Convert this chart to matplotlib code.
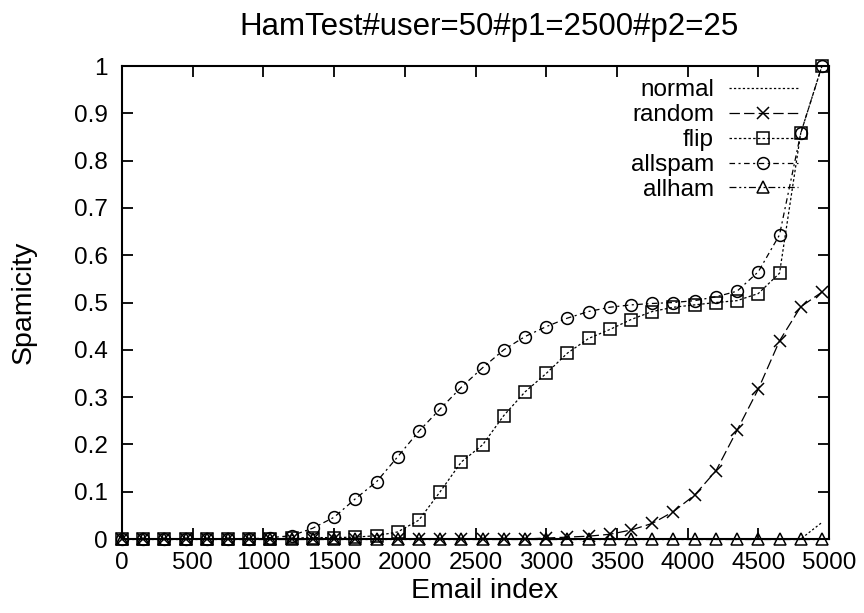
#!/usr/bin/env python3
"""
Spamicity of ham test emails per attack type (gnuplot-style line chart).

Output:
    out.png
"""

import matplotlib
matplotlib.use('Agg')
import matplotlib.pyplot as plt
from matplotlib.ticker import FormatStrFormatter, FuncFormatter

# --- Data ---

EMAIL_INDEX = [0, 150, 300, 450, 600, 750, 900, 1050, 1200, 1350,
               1500, 1650, 1800, 1950, 2100, 2250, 2400, 2550, 2700, 2850,
               3000, 3150, 3300, 3450, 3600, 3750, 3900, 4050, 4200, 4350,
               4500, 4650, 4800, 4950]

NORMAL = [0, 0, 0, 0, 0, 0, 0, 0, 0, 0,
          0, 0, 0, 0, 0, 0, 0, 0, 0, 0,
          0, 0, 0, 0, 0, 0, 0, 0, 0, 0,
          0, 0, 0, 0.035]

RANDOM = [0, 0, 0, 0, 0, 0, 0, 0, 0, 0,
          0, 0, 0, 0, 0, 0, 0, 0, 0, 0,
          0.002, 0.004, 0.006, 0.010, 0.019, 0.033, 0.058, 0.093, 0.144, 0.230,
          0.317, 0.419, 0.491, 0.522]

FLIP = [0, 0, 0, 0, 0, 0, 0, 0, 0.002, 0.003,
        0.003, 0.004, 0.007, 0.015, 0.040, 0.100, 0.163, 0.199, 0.261, 0.311,
        0.350, 0.393, 0.424, 0.443, 0.464, 0.481, 0.490, 0.495, 0.500, 0.504,
        0.519, 0.562, 0.858, 1.0]

ALLSPAM = [0, 0, 0, 0, 0, 0, 0, 0.003, 0.007, 0.023,
           0.046, 0.085, 0.121, 0.174, 0.228, 0.275, 0.321, 0.362, 0.400, 0.428,
           0.449, 0.467, 0.481, 0.490, 0.495, 0.498, 0.500, 0.504, 0.512, 0.524,
           0.565, 0.643, 0.858, 1.0]

ALLHAM = [0, 0, 0, 0, 0, 0, 0, 0, 0, 0,
          0, 0, 0, 0, 0, 0, 0, 0, 0, 0,
          0, 0, 0, 0, 0, 0, 0, 0, 0, 0,
          0, 0, 0, 0]

LABELS = ['normal', 'random', 'flip', 'allspam', 'allham']
X_TICKS = [0, 500, 1000, 1500, 2000, 2500, 3000, 3500, 4000, 4500, 5000]
Y_TICKS = [0, 0.1, 0.2, 0.3, 0.4, 0.5, 0.6, 0.7, 0.8, 0.9, 1.0]

TITLE = 'HamTest#user=50#p1=2500#p2=25'

# gnuplot monochrome line types: (marker, dash pattern in points)
STYLES = [
    (None, (1.6, 1.6)),
    ('x', (7.5, 3.0)),
    ('s', (1.8, 1.6)),
    ('o', (4.0, 2.5, 1.5, 2.5)),
    ('^', (5.0, 2.0, 1.5, 2.0, 1.5, 2.0)),
]


def main():
    plt.rcParams['font.family'] = ['Liberation Sans', 'DejaVu Sans']
    plt.rcParams['lines.scale_dashes'] = False

    fig = plt.figure(figsize=(8.64, 6.13), dpi=100)
    ax = fig.add_axes([0.1412, 0.1207, 0.8183, 0.7716])

    series = [NORMAL, RANDOM, FLIP, ALLSPAM, ALLHAM]
    for values, label, (marker, dashes) in zip(series, LABELS, STYLES):
        ax.plot(EMAIL_INDEX, values, color='black', lw=0.9,
                dashes=dashes, marker=marker, markersize=8.5,
                markerfacecolor='none', markeredgecolor='black',
                markeredgewidth=1.1, label=label, clip_on=False)

    ax.set_xlim(0, 5000)
    ax.set_ylim(0, 1)
    ax.set_xticks(X_TICKS)
    ax.set_yticks(Y_TICKS)
    ax.yaxis.set_major_formatter(FuncFormatter(lambda v, _: f'{v:g}'))
    ax.xaxis.set_major_formatter(FormatStrFormatter('%d'))

    ax.tick_params(direction='in', length=8, width=1.3, labelsize=17.5,
                   top=True, right=True)
    ax.tick_params(axis='x', pad=9)
    ax.tick_params(axis='y', pad=10)
    for spine in ax.spines.values():
        spine.set_linewidth(1.5)

    ax.set_xlabel('Email index', fontsize=20.5)
    ax.set_ylabel('Spamicity', fontsize=20.5)
    ax.xaxis.set_label_coords(0.513, -0.083)
    ax.yaxis.set_label_coords(-0.121, 0.5)

    fig.text(0.566, 0.943, TITLE, ha='center', va='baseline', fontsize=22.5)

    # key in the top right, labels right-aligned before the samples
    ax.legend(loc='upper right', bbox_to_anchor=(0.956, 0.972),
              frameon=False, markerfirst=False, fontsize=17.5,
              handlelength=2.85, handletextpad=0.6, labelspacing=0.12,
              borderpad=0, borderaxespad=0, numpoints=1)

    fig.savefig('out.png', dpi=100, facecolor='white')
    plt.close(fig)


if __name__ == '__main__':
    main()
